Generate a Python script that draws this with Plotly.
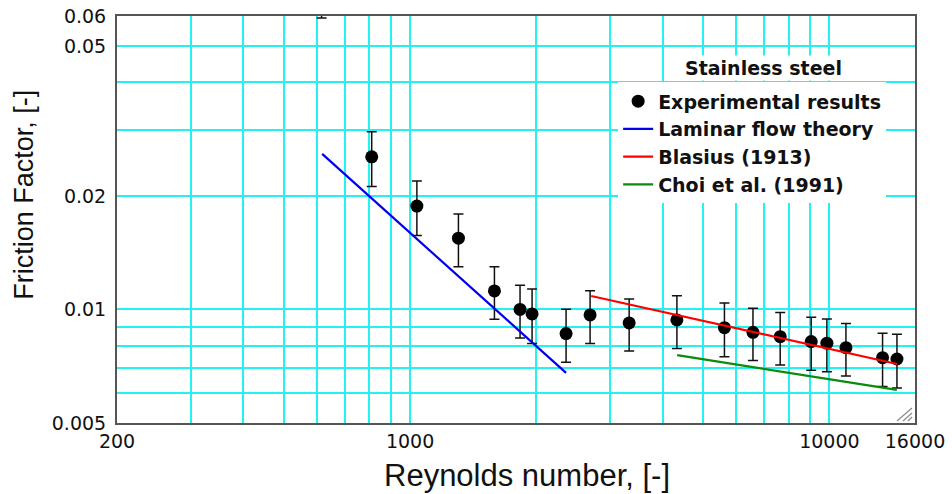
import numpy as np
import plotly.graph_objects as go

# ---- data ----
re_exp = [615, 810, 1038, 1304, 1589, 1829, 1954, 2355, 2687, 3330,
          4328, 5619, 6572, 7632, 9050, 9862, 10950, 13390, 14490]
f_exp = [0.071, 0.0254, 0.0188, 0.01545, 0.0112, 0.0100, 0.00973, 0.00863,
         0.00967, 0.00921, 0.00938, 0.00895, 0.0087, 0.00847, 0.00822,
         0.00814, 0.00792, 0.00745, 0.00739]
f_err = [0.0117, 0.0042, 0.0031, 0.00247, 0.00178, 0.0016, 0.0016, 0.00138,
         0.00154, 0.00145, 0.0015, 0.00146, 0.00138, 0.00135, 0.00132,
         0.0013, 0.00126, 0.0012, 0.0012]

re_laminar = [617, 2355]
f_laminar = [0.02585, 0.00679]
re_blasius = [2703, 14510]
f_blasius = [0.01086, 0.00717]
re_choi = [4335, 14480]
f_choi = [0.00757, 0.00612]

x_ticks = [200, 1000, 10000, 16000]
x_ticktext = ["200", "1000", "10000", "16000"]
x_minor = [300, 400, 500, 600, 700, 800, 900,
           2000, 3000, 4000, 5000, 6000, 7000, 8000, 9000]
y_ticks = [0.005, 0.01, 0.02, 0.05, 0.06]
y_ticktext = ["0.005", "0.01", "0.02", "0.05", "0.06"]
y_minor = [0.006, 0.007, 0.008, 0.009, 0.03, 0.04]

GRID = "#22f2f2"

fig = go.Figure()
fig.add_trace(go.Scatter(
    x=re_exp, y=f_exp, mode="markers", name="Experimental results",
    legendgroup="a",
    marker=dict(color="black", size=13),
    error_y=dict(type="data", array=f_err, visible=True, color="#111111",
                 thickness=1.5, width=5),
))
fig.add_trace(go.Scatter(
    x=re_laminar, y=f_laminar, mode="lines", name="Laminar flow theory",
    legendgroup="b", line=dict(color="#0000ee", width=2.2)))
fig.add_trace(go.Scatter(
    x=re_blasius, y=f_blasius, mode="lines", name="Blasius (1913)",
    legendgroup="c", line=dict(color="#ff0000", width=2.2)))
fig.add_trace(go.Scatter(
    x=re_choi, y=f_choi, mode="lines", name="Choi et al. (1991)",
    legendgroup="d", line=dict(color="#0b8a0b", width=2.2)))

fig.update_xaxes(
    type="log", range=[np.log10(200), np.log10(16000)],
    tickvals=x_ticks, ticktext=x_ticktext, ticks="",
    showgrid=True, gridcolor=GRID, gridwidth=1.5,
    minor=dict(tickvals=x_minor, showgrid=True, gridcolor=GRID, gridwidth=1.5, ticks=""),
    showline=True, mirror=True, linecolor="#555555", linewidth=2,
    tickfont=dict(family="DejaVu Sans", size=19, color="#111111"),
    zeroline=False, automargin=False,
)
fig.update_yaxes(
    type="log", range=[np.log10(0.005), np.log10(0.06)],
    tickvals=y_ticks, ticktext=y_ticktext, ticks="",
    showgrid=True, gridcolor=GRID, gridwidth=1.5,
    minor=dict(tickvals=y_minor, showgrid=True, gridcolor=GRID, gridwidth=1.5, ticks=""),
    showline=True, mirror=True, linecolor="#555555", linewidth=2,
    tickfont=dict(family="DejaVu Sans", size=19, color="#111111"),
    zeroline=False, automargin=False, ticklabelstandoff=5,
)

# small resize-grip hatch in the lower right corner (paper coordinates)
grip = []
for (x0, y0, x1, y1) in [(912, 408, 897, 421), (912, 413, 903, 421), (912, 417, 908, 421)]:
    grip.append(dict(type="line", xref="paper", yref="paper",
                     x0=(x0 - 117) / 798, y0=(423 - y0) / 407,
                     x1=(x1 - 117) / 798, y1=(423 - y1) / 407,
                     line=dict(color="#8a8a8a", width=1.2)))

fig.update_layout(
    width=952, height=494,
    margin=dict(l=117, r=37, t=16, b=71, autoexpand=False),
    paper_bgcolor="white", plot_bgcolor="white",
    showlegend=True,
    shapes=grip,
    legend=dict(
        x=0.628, y=0.837, xanchor="left", yanchor="top",
        bgcolor="white", borderwidth=0,
        font=dict(family="DejaVu Sans", size=19, color="#111111", weight="bold"),
        tracegroupgap=0,
    ),
    annotations=[
        dict(text="<b>Stainless steel</b>", xref="paper", yref="paper",
             x=(763 - 117) / 798, y=(423 - 68) / 407, xanchor="center", yanchor="middle",
             showarrow=False, bgcolor="white",
             font=dict(family="DejaVu Sans", size=19, color="#111111")),
        dict(text="Reynolds number, [-]", xref="paper", yref="paper",
             x=0.514, y=-0.128, xanchor="center", yanchor="middle", showarrow=False,
             font=dict(family="Liberation Sans", size=31, color="#111111")),
        dict(text="Friction Factor, [-]", xref="paper", yref="paper",
             x=-0.117, y=0.56, xanchor="center", yanchor="middle", showarrow=False,
             textangle=-90,
             font=dict(family="Liberation Sans", size=27, color="#111111")),
    ],
)

fig.write_html("out.html", config={"displayModeBar": False},
               post_script="document.body.style.margin='0';")
